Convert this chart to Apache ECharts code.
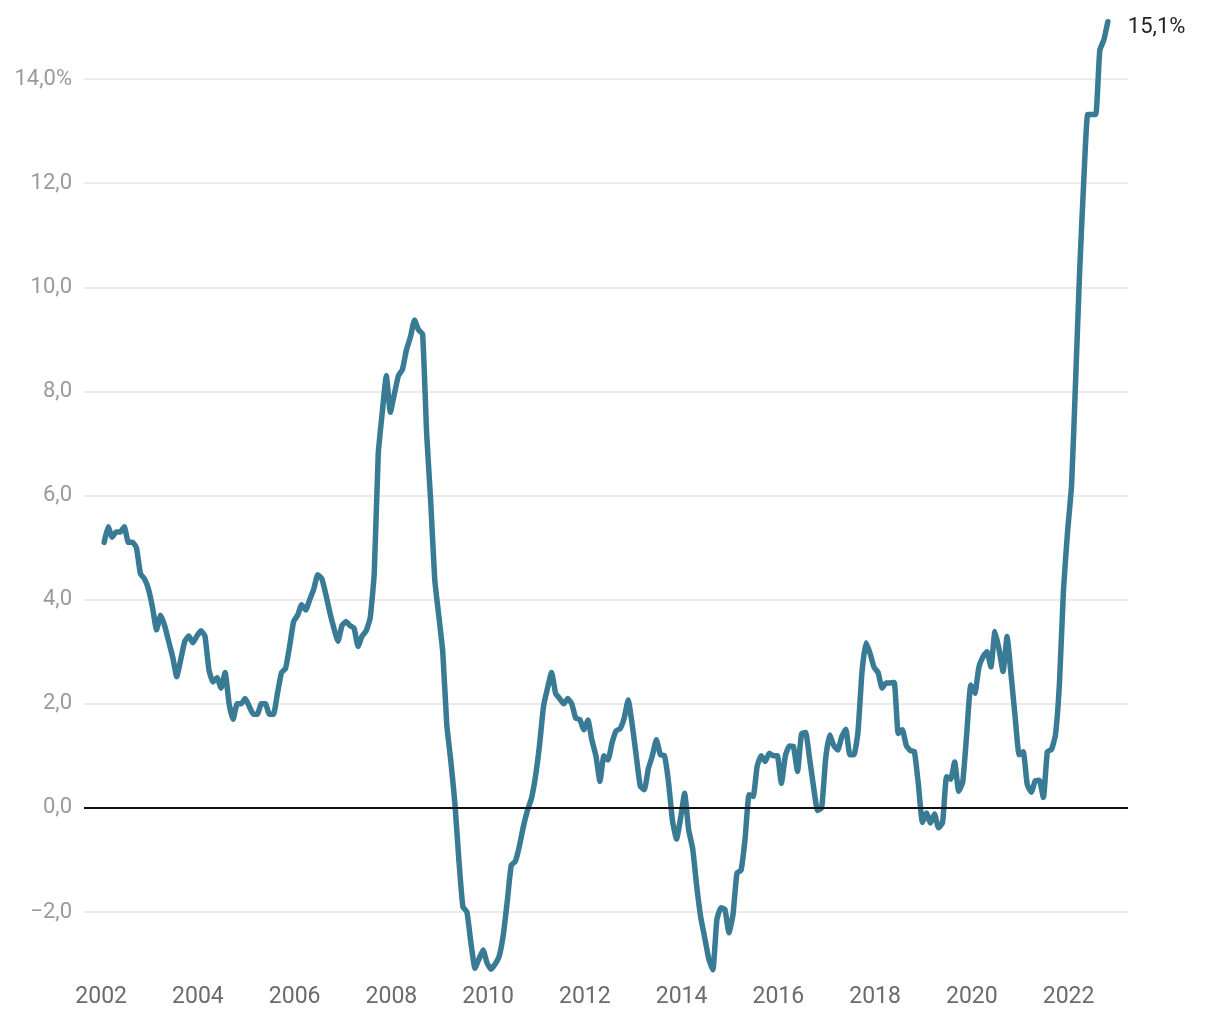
<!DOCTYPE html>
<html>
<head>
<meta charset="utf-8">
<script src="https://cdn.jsdelivr.net/npm/echarts@6/dist/echarts.min.js"></script>
<style>
html,body{margin:0;padding:0;background:#fff;}
#chart{width:1220px;height:1020px;}
</style>
</head>
<body>
<div id="chart"></div>
<script>
// Monthly values, Jan 2002 .. Oct 2022 (percent)
const v2002 = [5.1, 5.4, 5.2, 5.3, 5.3, 5.4, 5.1, 5.1, 5.0, 4.5, 4.4, 4.2];
const v2003 = [3.85, 3.42, 3.7, 3.5, 3.2, 2.9, 2.52, 2.85, 3.2, 3.3, 3.17, 3.3];
const v2004 = [3.4, 3.3, 2.65, 2.42, 2.5, 2.3, 2.6, 2.0, 1.7, 2.0, 2.0, 2.1];
const v2005 = [1.95, 1.8, 1.8, 2.0, 2.0, 1.8, 1.8, 2.2, 2.6, 2.68, 3.1, 3.58];
const v2006 = [3.7, 3.9, 3.8, 4.0, 4.2, 4.48, 4.4, 4.1, 3.75, 3.45, 3.2, 3.5];
const v2007 = [3.58, 3.5, 3.45, 3.1, 3.3, 3.4, 3.65, 4.5, 6.8, 7.6, 8.3, 7.6];
const v2008 = [7.95, 8.3, 8.42, 8.8, 9.05, 9.37, 9.18, 9.1, 7.2, 5.9, 4.4, 3.7];
const v2009 = [3.0, 1.6, 0.9, 0.1, -1.0, -1.9, -2.0, -2.6, -3.08, -2.9, -2.73, -2.98];
const v2010 = [-3.1, -3.0, -2.85, -2.45, -1.8, -1.1, -1.03, -0.74, -0.36, -0.05, 0.18, 0.6];
const v2011 = [1.2, 1.95, 2.3, 2.6, 2.2, 2.1, 2.0, 2.1, 2.0, 1.72, 1.7, 1.5];
const v2012 = [1.69, 1.3, 1.0, 0.51, 1.0, 0.92, 1.25, 1.48, 1.52, 1.72, 2.07, 1.6];
const v2013 = [1.0, 0.42, 0.35, 0.75, 1.0, 1.31, 1.02, 1.0, 0.5, -0.25, -0.6, -0.2];
const v2014 = [0.28, -0.42, -0.78, -1.5, -2.1, -2.5, -2.9, -3.11, -2.15, -1.92, -1.95, -2.4];
const v2015 = [-2.05, -1.25, -1.2, -0.6, 0.25, 0.22, 0.8, 1.0, 0.89, 1.05, 1.0, 1.0];
const v2016 = [0.47, 1.0, 1.19, 1.18, 0.7, 1.42, 1.45, 0.95, 0.4, -0.05, 0.0, 0.95];
const v2017 = [1.4, 1.2, 1.11, 1.37, 1.51, 1.02, 1.02, 1.45, 2.6, 3.17, 2.97, 2.7];
const v2018 = [2.6, 2.3, 2.4, 2.4, 2.41, 1.43, 1.5, 1.2, 1.1, 1.08, 0.45, -0.28];
const v2019 = [-0.1, -0.29, -0.12, -0.38, -0.28, 0.6, 0.55, 0.88, 0.32, 0.5, 1.43, 2.36];
const v2020 = [2.2, 2.7, 2.9, 3.0, 2.71, 3.39, 3.05, 2.62, 3.29, 2.55, 1.75, 1.02];
const v2021 = [1.08, 0.45, 0.3, 0.52, 0.53, 0.2, 1.08, 1.12, 1.4, 2.4, 4.2, 5.3];
const v2022 = [6.2, 8.2, 10.3, 12.0, 13.32, 13.32, 13.32, 14.55, 14.75, 15.1];

const xTickYears = ['2002','2004','2006','2008','2010','2012','2014','2016','2018','2020','2022'];
const yMin = -2, yMax = 14, yStep = 2;

const values = [].concat(v2002, v2003, v2004, v2005, v2006, v2007, v2008, v2009, v2010,
  v2011, v2012, v2013, v2014, v2015, v2016, v2017, v2018, v2019, v2020, v2021, v2022);

// month categories 2001-08 .. 2023-03
const months = [];
for (let y = 2001; y <= 2023; y++) {
  for (let m = 1; m <= 12; m++) {
    if (y === 2001 && m < 8) continue;
    if (y === 2023 && m > 3) continue;
    months.push(y + '-' + String(m).padStart(2, '0'));
  }
}
const startIdx = months.indexOf('2002-01');
const seriesData = values.map((v, i) => [months[startIdx + i], v]);

function fmtNum(v) {
  const s = Math.abs(v).toFixed(1).replace('.', ',');
  return (v < 0 ? '\u2212' : '') + s;
}

const chart = echarts.init(document.getElementById('chart'), null, {renderer: 'canvas'});
chart.setOption({
  backgroundColor: '#ffffff',
  animation: false,
  grid: {left: 84, right: 92, top: 79, bottom: 108, containLabel: false},
  xAxis: {
    type: 'category',
    data: months,
    boundaryGap: false,
    axisLine: {show: false},
    axisTick: {show: false},
    splitLine: {show: false},
    axisLabel: {
      interval: function (idx, val) {
        return val.slice(5) === '01' && xTickYears.indexOf(val.slice(0, 4)) >= 0;
      },
      formatter: function (val) { return val.slice(0, 4); },
      color: '#6b6b6b',
      fontFamily: 'Roboto',
      fontSize: 23,
      margin: 74,
      padding: [0, 6, 0, 0]
    }
  },
  yAxis: {
    type: 'value',
    min: yMin,
    max: yMax,
    interval: yStep,
    axisLine: {show: false},
    axisTick: {show: false},
    splitLine: {show: true, lineStyle: {color: '#e4e4e4', width: 1.5}},
    axisLabel: {
      color: '#9a9a9a',
      fontFamily: 'Roboto',
      fontSize: 22,
      margin: 12,
      formatter: function (v) { return v === yMax ? fmtNum(v) + '%' : fmtNum(v); }
    }
  },
  series: [
    {
      type: 'line',
      data: [],
      z: 1,
      silent: true,
      markLine: {
        silent: true,
        symbol: ['none', 'none'],
        label: {show: false},
        lineStyle: {color: '#111111', width: 2, type: 'solid'},
        data: [{yAxis: 0}]
      }
    },
    {
      type: 'line',
      data: seriesData,
      z: 3,
      clip: false,
      showSymbol: false,
      symbol: 'none',
      smooth: 0.15,
      lineStyle: {color: '#397a94', width: 5.5, cap: 'round', join: 'round'},
      endLabel: {
        show: true,
        formatter: function (p) { return fmtNum(p.value[1]) + '%'; },
        color: '#222222',
        fontFamily: 'Roboto',
        fontSize: 22,
        distance: 20,
        offset: [0, 6]
      }
    }
  ]
});
</script>
</body>
</html>
